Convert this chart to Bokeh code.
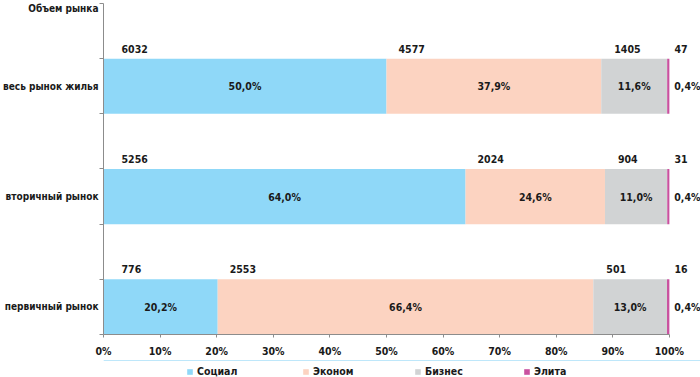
from bokeh.plotting import figure
from bokeh.layouts import column
from bokeh.models import (ColumnDataSource, FixedTicker, Legend, LegendItem,
                          PrintfTickFormatter, Range1d)
from bokeh.core.properties import value
from bokeh.embed import file_html
from bokeh.resources import INLINE

# ---- data ----
categories = ["первичный рынок", "вторичный рынок", "весь рынок жилья"]  # bottom -> top
series = ["Социал", "Эконом", "Бизнес", "Элита"]
social = [776, 5256, 6032]
econom = [2553, 2024, 4577]
business = [501, 904, 1405]
elite = [16, 31, 47]
x_ticks = [0, 10, 20, 30, 40, 50, 60, 70, 80, 90, 100]
axis_title = "Объем рынка"

colors = ["#8fd8f8", "#fcd3c1", "#d1d3d4", "#c9519f"]
FONT = "DejaVu Sans Condensed"
TXT = "#1a1a1a"
GRAY = "#8c8c8c"
FS = "10.5px"
FS_CAT = "10px"

values = [social, econom, business, elite]
totals = [sum(v[i] for v in values) for i in range(len(categories))]
ys = [2 * i + 0.5 for i in range(len(categories))]

p = figure(width=700, height=360, output_backend="svg", toolbar_location=None,
           x_range=Range1d(0, 105.5), y_range=Range1d(0, 6.054),
           min_border_left=101, min_border_right=0, min_border_top=0, min_border_bottom=26)
p.outline_line_color = None
p.grid.visible = False
p.background_fill_color = "white"

# legend strip below the chart (shares the bar sources; its view window is empty)
lf = figure(width=700, height=17, output_backend="svg", toolbar_location=None,
            x_range=Range1d(0, 1), y_range=Range1d(-20, -19),
            x_axis_location=None, y_axis_location=None,
            min_border_left=0, min_border_right=0, min_border_top=0, min_border_bottom=0)
lf.outline_line_color = None
lf.grid.visible = False
legend_x = [83, 199, 311, 420]

count_offsets = [18, 12, 13, 5]
left = [0.0] * len(categories)
for s, (name, vals) in enumerate(zip(series, values)):
    share = [100.0 * vals[i] / totals[i] for i in range(len(categories))]
    right = [left[i] + share[i] for i in range(len(categories))]
    pct = [("%.1f%%" % round(share[i], 1)).replace(".", ",") for i in range(len(categories))]
    last = (s == len(series) - 1)
    src = ColumnDataSource(dict(
        y=ys, left=list(left), right=right, mid=[(l + r) / 2 for l, r in zip(left, right)],
        top=[y + 0.5 for y in ys], pct=pct, cnt=[str(v) for v in vals],
        outx=[100] * len(ys)))
    p.hbar(y="y", left="left", right="right", height=1.0, source=src,
           fill_color=colors[s], line_color=None)
    p.text(x="outx" if last else "mid", y="y", text="pct", source=src,
           x_offset=18 if last else 0,
           text_align="center", text_baseline="middle", text_font=value(FONT),
           text_font_style="bold", text_font_size=FS, text_color=TXT)
    p.text(x="outx" if last else "left", y="top", text="cnt", source=src,
           x_offset=count_offsets[s], y_offset=-10,
           text_align="left", text_baseline="middle", text_font=value(FONT),
           text_font_style="bold", text_font_size=FS, text_color=TXT)
    lr = lf.hbar(y="y", left="left", right="right", height=1.0, source=src,
                 fill_color=colors[s], line_color=None)
    lf.add_layout(Legend(items=[LegendItem(label=name, renderers=[lr])],
                         orientation="horizontal", location=(legend_x[s], 0),
                         border_line_color=None, background_fill_alpha=0,
                         glyph_width=7, glyph_height=7, label_standoff=4, spacing=0,
                         padding=0, margin=0,
                         label_text_font=FONT, label_text_font_style="bold",
                         label_text_font_size=FS, label_text_color=TXT))
    left = right

# x axis
xa = p.xaxis[0]
xa.ticker = FixedTicker(ticks=x_ticks, minor_ticks=[])
xa.formatter = PrintfTickFormatter(format="%d%%")
xa.bounds = (0, 100)
xa.axis_line_color = GRAY
xa.major_tick_line_color = GRAY
xa.major_tick_out = 3
xa.major_tick_in = 0
xa.minor_tick_line_color = None
xa.major_label_standoff = 7
xa.major_label_text_font = FONT
xa.major_label_text_font_style = "bold"
xa.major_label_text_font_size = FS
xa.major_label_text_color = TXT

# y axis (category labels + "Объем рынка" heading at the top)
title_y = 5.91
ya = p.yaxis[0]
ya.ticker = FixedTicker(ticks=ys + [title_y], minor_ticks=[0, 1, 2, 3, 4, 5, 6])
overrides = {y: c for y, c in zip(ys, categories)}
overrides[title_y] = axis_title
ya.major_label_overrides = overrides
ya.bounds = (0, 6)
ya.axis_line_color = GRAY
ya.major_tick_line_color = None
ya.major_tick_out = 0
ya.major_tick_in = 0
ya.minor_tick_line_color = GRAY
ya.minor_tick_out = 4
ya.minor_tick_in = 0
ya.major_label_standoff = 1
ya.major_label_text_font = FONT
ya.major_label_text_font_style = "bold"
ya.major_label_text_font_size = FS_CAT
ya.major_label_text_color = TXT

layout = column(p, lf, spacing=0)
open("out.html", "w").write(file_html(layout, INLINE))
